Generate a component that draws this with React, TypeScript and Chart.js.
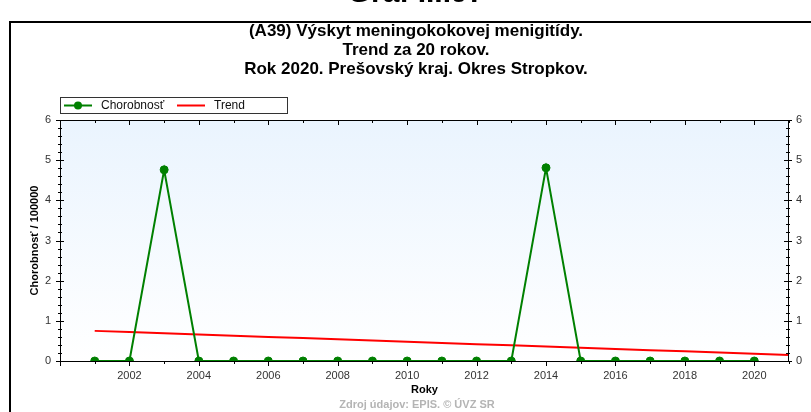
import { useEffect, useRef } from "react";
import { Chart, registerables } from "chart.js";

Chart.register(...registerables);

const FONT = "'Liberation Sans', Arial, sans-serif";

const headerText = "Graf III.97";
const titleLines = [
  "(A39) Výskyt meningokokovej menigitídy.",
  "Trend za 20 rokov.",
  "Rok 2020. Prešovský kraj. Okres Stropkov.",
];
const yAxisTitle = "Chorobnosť / 100000";
const xAxisTitle = "Roky";
const sourceText = "Zdroj údajov: EPIS. © ÚVZ SR";
const seriesLabels = ["Chorobnosť", "Trend"];

const years = [2001, 2002, 2003, 2004, 2005, 2006, 2007, 2008, 2009, 2010, 2011, 2012, 2013, 2014, 2015, 2016, 2017, 2018, 2019, 2020];
const chorobnost = [0, 0, 4.76, 0, 0, 0, 0, 0, 0, 0, 0, 0, 0, 4.81, 0, 0, 0, 0, 0, 0];

const trendYears = [2001, 2002, 2003, 2004, 2005, 2006, 2007, 2008, 2009, 2010, 2011, 2012, 2013, 2014, 2015, 2016, 2017, 2018, 2019, 2020, 2021];
const trendValues = [0.75, 0.72, 0.69, 0.66, 0.63, 0.6, 0.57, 0.54, 0.51, 0.48, 0.45, 0.42, 0.39, 0.36, 0.33, 0.3, 0.27, 0.24, 0.21, 0.18, 0.15];

const xMin = 2000;
const xMax = 2021;
const yMin = 0;
const yMax = 6;

const decorPlugin = {
  id: "decor",
  beforeDraw(chart: any) {
    const { ctx, chartArea: a, width, height } = chart;
    ctx.save();
    ctx.fillStyle = "#ffffff";
    ctx.fillRect(0, 0, width, height);
    const g = ctx.createLinearGradient(0, a.top, 0, a.bottom);
    g.addColorStop(0, "#eaf4fe");
    g.addColorStop(1, "#ffffff");
    ctx.fillStyle = g;
    ctx.fillRect(a.left, a.top, a.right - a.left, a.bottom - a.top);
    ctx.restore();
  },
  afterDraw(chart: any) {
    const { ctx, chartArea: a } = chart;
    const xs = chart.scales.x;
    const ys = chart.scales.y;
    ctx.save();

    // header (cut off at top of page)
    ctx.fillStyle = "#000";
    ctx.font = `bold 30px ${FONT}`;
    ctx.textAlign = "center";
    ctx.textBaseline = "alphabetic";
    ctx.fillText(headerText, 416, 2);

    // outer frame
    ctx.strokeStyle = "#000";
    ctx.lineWidth = 2;
    ctx.beginPath();
    ctx.moveTo(811, 22);
    ctx.lineTo(10, 22);
    ctx.lineTo(10, 412);
    ctx.stroke();

    // titles
    ctx.font = `bold 17px ${FONT}`;
    ctx.textBaseline = "alphabetic";
    titleLines.forEach((t, i) => ctx.fillText(t, 416, 36 + i * 19));

    // plot frame
    ctx.lineWidth = 1;
    ctx.strokeStyle = "#000";
    ctx.strokeRect(Math.round(a.left) + 0.5, Math.round(a.top) + 0.5, Math.round(a.right - a.left) - 1, Math.round(a.bottom - a.top));

    // x ticks
    ctx.beginPath();
    for (let v = xMin; v <= xMax; v++) {
      const px = Math.round(xs.getPixelForValue(v)) + 0.5;
      const major = v % 2 === 0;
      ctx.moveTo(px, a.bottom);
      ctx.lineTo(px, a.bottom + (major ? 5 : 3));
      ctx.moveTo(px, a.top);
      ctx.lineTo(px, a.top + (major ? 5 : 3));
    }
    // y ticks
    for (let k = 0; k <= 30; k++) {
      const v = yMin + k * 0.2;
      const py = Math.round(ys.getPixelForValue(v)) + 0.5;
      const major = k % 5 === 0;
      const hl = major ? 4 : 2;
      ctx.moveTo(a.left - hl, py);
      ctx.lineTo(a.left + hl, py);
      ctx.moveTo(a.right - hl - 1, py);
      ctx.lineTo(a.right + hl - 1, py);
    }
    ctx.stroke();

    // legend
    ctx.strokeStyle = "#333";
    ctx.strokeRect(60.5, 97.5, 227, 16);
    ctx.lineWidth = 2;
    ctx.strokeStyle = "#008000";
    ctx.beginPath();
    ctx.moveTo(64, 105.5);
    ctx.lineTo(92, 105.5);
    ctx.stroke();
    ctx.fillStyle = "#008000";
    ctx.beginPath();
    ctx.arc(78, 105.5, 4, 0, Math.PI * 2);
    ctx.fill();
    ctx.strokeStyle = "#ff0000";
    ctx.beginPath();
    ctx.moveTo(177, 105.5);
    ctx.lineTo(205, 105.5);
    ctx.stroke();
    ctx.fillStyle = "#111";
    ctx.font = `12px ${FONT}`;
    ctx.textAlign = "left";
    ctx.textBaseline = "middle";
    ctx.fillText(seriesLabels[0], 101, 105.5);
    ctx.fillText(seriesLabels[1], 214, 105.5);

    // axis titles
    ctx.font = `bold 11px ${FONT}`;
    ctx.fillStyle = "#000";
    ctx.textAlign = "center";
    ctx.fillText(xAxisTitle, (a.left + a.right) / 2, 390);
    ctx.save();
    ctx.translate(35, (a.top + a.bottom) / 2);
    ctx.rotate(-Math.PI / 2);
    ctx.fillText(yAxisTitle, 0, 0);
    ctx.restore();

    // source
    ctx.fillStyle = "#b4b4b4";
    ctx.font = `bold 11px ${FONT}`;
    ctx.fillText(sourceText, 417, 405);

    ctx.restore();
  },
};

export default function App() {
  const ref = useRef<HTMLCanvasElement>(null);
  useEffect(() => {
    if (!ref.current) return;
    const tickFont = { family: FONT, size: 11 };
    const chart = new Chart(ref.current, {
      type: "line",
      data: {
        datasets: [
          {
            label: seriesLabels[0],
            data: years.map((x, i) => ({ x, y: chorobnost[i] })),
            borderColor: "#008000",
            backgroundColor: "#008000",
            borderWidth: 2,
            pointRadius: 4,
            pointBorderWidth: 1,
            pointBorderColor: "#008000",
            pointBackgroundColor: "#008000",
            tension: 0,
            clip: 0,
            yAxisID: "y",
          },
          {
            label: seriesLabels[1],
            data: trendYears.map((x, i) => ({ x, y: trendValues[i] })),
            borderColor: "#ff0000",
            backgroundColor: "#ff0000",
            borderWidth: 2,
            pointRadius: 0,
            tension: 0,
            clip: 0,
            yAxisID: "y",
          },
        ],
      },
      options: {
        responsive: false,
        animation: false,
        devicePixelRatio: 1,
        layout: { padding: { top: 120, left: 0, right: 0, bottom: 0 } },
        plugins: {
          legend: { display: false },
          title: { display: false },
          tooltip: { enabled: false },
        },
        scales: {
          x: {
            type: "linear",
            position: "bottom",
            min: xMin,
            max: xMax,
            grid: { display: false, drawTicks: false },
            border: { display: false },
            ticks: {
              stepSize: 1,
              autoSkip: false,
              maxRotation: 0,
              padding: 8,
              color: "#333",
              font: tickFont,
              callback: (v: any) => (v % 2 === 0 && v > xMin && v < xMax ? String(v) : ""),
            },
            afterFit: (s: any) => {
              s.height = 51;
            },
          },
          y: {
            type: "linear",
            position: "left",
            min: yMin,
            max: yMax,
            grid: { display: false, drawTicks: false },
            border: { display: false },
            ticks: { stepSize: 1, padding: 9, color: "#333", font: tickFont, callback: (v: any) => String(v) },
            afterFit: (s: any) => {
              s.width = 60;
            },
          },
          y2: {
            type: "linear",
            position: "right",
            min: yMin,
            max: yMax,
            grid: { display: false, drawTicks: false },
            border: { display: false },
            ticks: { stepSize: 1, padding: 7, color: "#333", font: tickFont, callback: (v: any) => String(v) },
            afterFit: (s: any) => {
              s.width = 22;
            },
          },
        },
      },
      plugins: [decorPlugin],
    });
    return () => chart.destroy();
  }, []);
  return (
    <div style={{ position: "fixed", left: 0, top: 0, width: 811, height: 412 }}>
      <canvas ref={ref} width={811} height={412} style={{ display: "block" }} />
    </div>
  );
}
